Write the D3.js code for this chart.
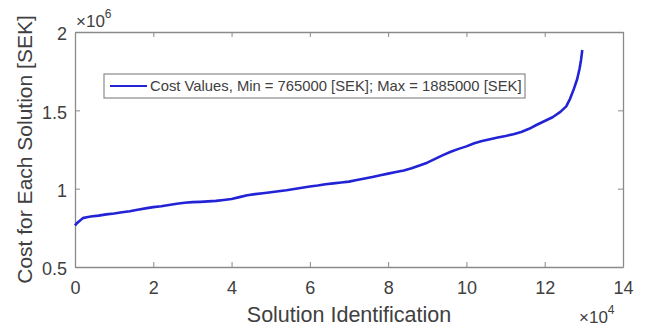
<!DOCTYPE html>
<html>
<head>
<meta charset="utf-8">
<script src="https://cdn.jsdelivr.net/npm/d3@7"></script>
<style>
  html, body { margin: 0; padding: 0; background: #fff; }
  svg { display: block; }
  text { font-family: "Liberation Sans", Arial, Helvetica, sans-serif; fill: #404040; }
</style>
</head>
<body>
<svg id="chart" width="646" height="330"></svg>
<script>
// Solution index (sorted by cost) and cost in SEK
const solutionIds = [
  0, 500, 1000, 2000, 3000, 4000, 6000, 8000, 10000, 12000,
  14000, 16000, 18000, 20000, 22000, 24000, 26000, 28000, 30000, 32000,
  34000, 36000, 38000, 40000, 42000, 44000, 46000, 48000, 50000, 52000,
  54000, 56000, 58000, 60000, 62000, 64000, 66000, 68000, 70000, 72000,
  74000, 76000, 78000, 80000, 82000, 84000, 86000, 88000, 90000, 92000,
  94000, 96000, 98000, 100000, 102000, 104000, 106000, 108000, 110000, 112000,
  114000, 116000, 118000, 120000, 122000, 124000, 125500, 126500, 127500, 128300,
  128900, 129300, 129600
];
const costValues = [
  765000, 780000, 790000, 812000, 818000, 822000, 828000, 836000, 842000, 850000,
  856000, 866000, 874000, 882000, 888000, 896000, 904000, 910000, 914000, 916000,
  919000, 922000, 928000, 934000, 946000, 958000, 965000, 971000, 977000, 984000,
  990000, 998000, 1006000, 1014000, 1020000, 1028000, 1034000, 1039000, 1045000, 1055000,
  1065000, 1075000, 1085000, 1096000, 1106000, 1116000, 1130000, 1148000, 1166000, 1190000,
  1214000, 1236000, 1254000, 1270000, 1290000, 1304000, 1316000, 1326000, 1336000, 1348000,
  1362000, 1382000, 1408000, 1432000, 1456000, 1490000, 1525000, 1575000, 1640000, 1700000,
  1765000, 1825000, 1885000
];
const xTicks = [0, 20000, 40000, 60000, 80000, 100000, 120000, 140000];
const yTicks = [500000, 1000000, 1500000, 2000000];
const legendLabel = "Cost Values, Min = 765000 [SEK]; Max = 1885000 [SEK]";

const svg = d3.select("#chart");
const margin = { left: 75, right: 23, top: 32, bottom: 63 };
const W = 646, H = 330;

const x = d3.scaleLinear().domain([0, 140000]).range([margin.left, W - margin.right]);
const y = d3.scaleLinear().domain([500000, 2000000]).range([H - margin.bottom, margin.top]);

const axisColor = "#8a8a8a";
const textColor = "#404040";
const tickLen = 5;
const tickFont = 18;

// axes box
const gAxes = svg.append("g");
const fmtX = d => String(d / 10000);
const fmtY = d => String(d / 1000000);

gAxes.append("g")
  .attr("transform", `translate(0,${y.range()[0]})`)
  .call(d3.axisBottom(x).tickValues(xTicks).tickFormat(fmtX).tickSizeInner(-tickLen).tickSizeOuter(0).tickPadding(14));
gAxes.append("g")
  .attr("transform", `translate(0,${y.range()[1]})`)
  .call(d3.axisTop(x).tickValues(xTicks).tickFormat("").tickSizeInner(-tickLen).tickSizeOuter(0));
const yAxisLeft = gAxes.append("g")
  .attr("transform", `translate(${x.range()[0]},0)`)
  .call(d3.axisLeft(y).tickValues(yTicks).tickFormat(fmtY).tickSizeInner(-tickLen).tickSizeOuter(0).tickPadding(8));
gAxes.append("g")
  .attr("transform", `translate(${x.range()[1]},0)`)
  .call(d3.axisRight(y).tickValues(yTicks).tickFormat("").tickSizeInner(-tickLen).tickSizeOuter(0));

gAxes.selectAll(".domain").attr("stroke", axisColor).attr("stroke-width", 1.3);
gAxes.selectAll(".tick line").attr("stroke", axisColor).attr("stroke-width", 1);
gAxes.selectAll(".tick text")
  .attr("font-family", "Liberation Sans, Arial, sans-serif")
  .attr("font-size", tickFont)
  .attr("fill", textColor);
yAxisLeft.selectAll(".tick text").attr("y", 2);

// exponent labels
const expY = svg.append("text").attr("x", x.range()[0] + 1).attr("y", 27).attr("font-size", 17);
expY.append("tspan").text("\u00d710");
expY.append("tspan").attr("dy", -9).attr("font-size", 12).text("6");
const expX = svg.append("text").attr("x", 579).attr("y", 323).attr("font-size", 17);
expX.append("tspan").text("\u00d710");
expX.append("tspan").attr("dy", -9).attr("font-size", 12).text("4");

// axis titles
svg.append("text")
  .attr("x", (x.range()[0] + x.range()[1]) / 2)
  .attr("y", 322)
  .attr("text-anchor", "middle")
  .attr("font-size", 21.5)
  .text("Solution Identification");
svg.append("text")
  .attr("transform", `translate(32,${(y.range()[0] + y.range()[1]) / 2}) rotate(-90)`)
  .attr("text-anchor", "middle")
  .attr("font-size", 21)
  .text("Cost for Each Solution [SEK]");

// cost curve
const data = solutionIds.map((id, i) => ({ id, cost: costValues[i] }));
const line = d3.line().x(d => x(d.id)).y(d => y(d.cost));
svg.append("path")
  .datum(data)
  .attr("fill", "none")
  .attr("stroke", "#2323d6")
  .attr("stroke-width", 2.6)
  .attr("stroke-linejoin", "round")
  .attr("d", line);

// legend
const lg = svg.append("g");
lg.append("rect")
  .attr("x", 104).attr("y", 74).attr("width", 421).attr("height", 24)
  .attr("fill", "#fff").attr("stroke", axisColor).attr("stroke-width", 1.2);
lg.append("line")
  .attr("x1", 110).attr("x2", 147).attr("y1", 86).attr("y2", 86)
  .attr("stroke", "#2323d6").attr("stroke-width", 2);
lg.append("text")
  .attr("x", 150).attr("y", 91)
  .attr("font-size", 14.8)
  .text(legendLabel);
</script>
</body>
</html>
